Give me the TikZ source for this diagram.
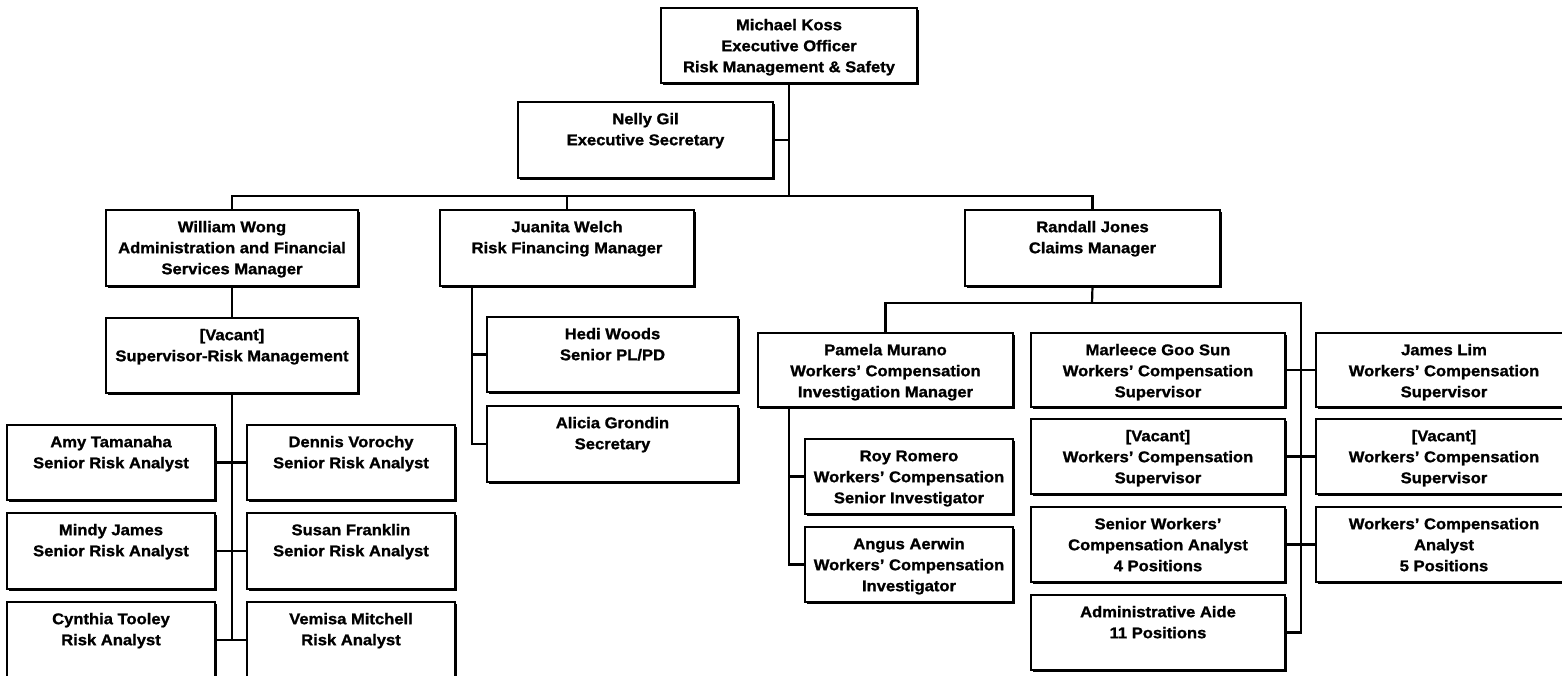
\documentclass[tikz,border=0pt]{standalone}
\usepackage{fontspec}
\setmainfont{Liberation Sans}[FakeStretch=1.07, BoldFeatures={FakeBold=1.2}]
\usetikzlibrary{shadows}
\tikzset{
  obox/.style={draw=black, line width=1.6pt, fill=white, inner sep=0pt, outer sep=0pt,
    anchor=north west, font=\bfseries\fontsize{15.5pt}{21pt}\selectfont,
    drop shadow={shadow xshift=2pt, shadow yshift=-2pt, fill=black, opacity=1}},
  conn/.style={draw=black, line width=2.2pt}
}
\newcommand{\orgbox}[6]{%
  \node[obox] (#1) at (#2,#3)
    {\parbox[c][\dimexpr #5pt-#3pt\relax][t]{\dimexpr #4pt-#2pt\relax}{\centering\vspace*{7.5pt}\strut #6\par}};}
\begin{document}
\begin{tikzpicture}[x=1pt,y=-1pt]
\useasboundingbox (0,0) rectangle (1562,676);
\fill[white] (0,0) rectangle (1562,676);
\clip (0,0) rectangle (1562,676);

\coordinate (bus1) at (789,196);
\coordinate (bus2) at (1092,303);
\coordinate (rv) at (1301,303);
\coordinate (jv) at (472,286);
\coordinate (pv) at (789,407);

% top level
\orgbox{mk}{661}{8}{917}{83}{Michael Koss\\Executive Officer\\Risk Management \& Safety}
\orgbox{ng}{518}{102}{773}{178}{Nelly Gil\\Executive Secretary}
\orgbox{ww}{106}{210}{358}{286}{William Wong\\Administration and Financial\\Services Manager}
\orgbox{jw}{440}{210}{694}{286}{Juanita Welch\\Risk Financing Manager}
\orgbox{rj}{965}{210}{1220}{286}{Randall Jones\\Claims Manager}

% left branch
\orgbox{vs}{106}{318}{358}{393}{{[Vacant]}\\Supervisor-Risk Management}
\orgbox{at}{7}{425}{215}{500}{Amy Tamanaha\\Senior Risk Analyst}
\orgbox{dv}{247}{425}{455}{500}{Dennis Vorochy\\Senior Risk Analyst}
\orgbox{mj}{7}{513}{215}{589}{Mindy James\\Senior Risk Analyst}
\orgbox{sf}{247}{513}{455}{589}{Susan Franklin\\Senior Risk Analyst}
\orgbox{ct}{7}{602}{215}{678}{Cynthia Tooley\\Risk Analyst}
\orgbox{vm}{247}{602}{455}{678}{Vemisa Mitchell\\Risk Analyst}

% middle branch
\orgbox{hw}{487}{317}{738}{392}{Hedi Woods\\Senior PL/PD}
\orgbox{agr}{487}{406}{738}{482}{Alicia Grondin\\Secretary}

% claims branch
\orgbox{pm}{758}{333}{1013}{407}{Pamela Murano\\Workers' Compensation\\Investigation Manager}
\orgbox{rr}{805}{439}{1013}{514}{Roy Romero\\Workers' Compensation\\Senior Investigator}
\orgbox{aae}{805}{527}{1013}{602}{Angus Aerwin\\Workers' Compensation\\Investigator}
\orgbox{mg}{1031}{333}{1285}{407}{Marleece Goo Sun\\Workers' Compensation\\Supervisor}
\orgbox{v1}{1031}{419}{1285}{494}{{[Vacant]}\\Workers' Compensation\\Supervisor}
\orgbox{sw}{1031}{507}{1285}{582}{Senior Workers'\\Compensation Analyst\\4 Positions}
\orgbox{aa}{1031}{595}{1285}{670}{Administrative Aide\\11 Positions}
\orgbox{jl}{1316}{333}{1572}{407}{James Lim\\Workers' Compensation\\Supervisor}
\orgbox{v2}{1316}{419}{1572}{494}{{[Vacant]}\\Workers' Compensation\\Supervisor}
\orgbox{wa}{1316}{507}{1572}{582}{Workers' Compensation\\Analyst\\5 Positions}

% connectors
\draw[conn] (mk.south) -- (bus1);
\draw[conn] (ng.east) -- (ng.east -| bus1);
\draw[conn] (ww.north) -- (ww.north |- bus1) -- (rj.north |- bus1) -- (rj.north);
\draw[conn] (jw.north) -- (jw.north |- bus1);

\draw[conn] (ww.south) -- (vs.north);
\draw[conn] (vs.south) -- (vs.south |- ct.east);
\draw[conn] (at.east) -- (dv.west);
\draw[conn] (mj.east) -- (sf.west);
\draw[conn] (ct.east) -- (vm.west);

\draw[conn] (jv) |- (agr.west);
\draw[conn] (jv |- hw.west) -- (hw.west);

\draw[conn] (rj.south) -- (bus2);
\draw[conn] (pm.north) |- (rv) -- (rv |- aa.east) -- (aa.east);
\draw[conn] (pv) |- (aae.west);
\draw[conn] (pv |- rr.west) -- (rr.west);
\draw[conn] (mg.east) -- (jl.west);
\draw[conn] (v1.east) -- (v2.west);
\draw[conn] (sw.east) -- (wa.west);
\end{tikzpicture}
\end{document}
